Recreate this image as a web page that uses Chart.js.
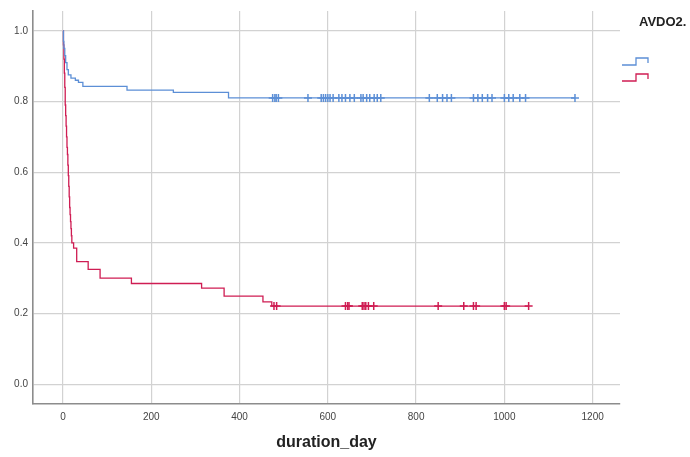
<!DOCTYPE html>
<html lang="en">
<head>
  <meta charset="UTF-8" />
  <title>Survival by AVDO2.</title>
  <style>
    body {
      margin: 0;
      background-color: #fff;
    }
    canvas#kmChart {
      display: block;
    }
  </style>
</head>
<body>
  <canvas id="kmChart" width="690" height="457"></canvas>

  <script src="https://cdn.jsdelivr.net/npm/chart.js"></script>
  <script>
    // axis ticks
    const xTicks = [0, 200, 400, 600, 800, 1000, 1200];
    const yTicks = [0.0, 0.2, 0.4, 0.6, 0.8, 1.0];

    // group 1 (blue): event times and survival level after each step
    const blueTimes = [0, 1, 2, 4, 6, 9, 12, 18, 28, 35, 45, 145, 250, 375];
    const blueSurv  = [1.0, 0.97, 0.95, 0.93, 0.91, 0.89, 0.875, 0.866, 0.86, 0.854, 0.843, 0.832, 0.826, 0.81];
    const blueCensored = [475, 480, 483, 488, 555, 585, 590, 595, 600, 605, 612, 625, 632, 640, 650, 660,
                          675, 680, 688, 695, 705, 712, 720, 830, 848, 860, 870, 880, 930, 940, 950, 962,
                          972, 1000, 1010, 1020, 1035, 1048, 1160];

    // group 2 (red)
    const redTimes = [0, 1, 2, 3, 4, 5, 6, 7, 8, 9, 10, 11, 12, 13, 14, 15, 16, 17, 18, 19, 20,
                      24, 31, 57, 84, 155, 314, 365, 453, 473];
    const redSurv  = [1.0, 0.96, 0.92, 0.88, 0.84, 0.79, 0.76, 0.73, 0.70, 0.67, 0.65, 0.62, 0.59, 0.56,
                      0.53, 0.50, 0.48, 0.46, 0.44, 0.42, 0.40, 0.385, 0.347, 0.325, 0.30, 0.285, 0.272,
                      0.249, 0.233, 0.221];
    const redCensored = [478, 484, 640, 645, 648, 678, 682, 686, 692, 704, 850, 908, 930, 936, 1000, 1004, 1055];

    const BLUE = '#5c8fd6';
    const RED = '#cf1d53';

    // level of the step curve at time t
    function levelAt(times, surv, t) {
      let v = surv[0];
      for (let i = 0; i < times.length; i++) {
        if (times[i] <= t) v = surv[i];
      }
      return v;
    }

    function stepPoints(times, surv, censored) {
      const pts = times.map((t, i) => ({ x: t, y: surv[i] }));
      const last = censored[censored.length - 1];
      pts.push({ x: last, y: levelAt(times, surv, last) });
      return pts;
    }

    function censorPoints(times, surv, censored) {
      return censored.map(t => ({ x: t, y: levelAt(times, surv, t) }));
    }

    // legend block on the right: title + step glyphs
    const sideLegend = {
      id: 'sideLegend',
      afterDraw(chart) {
        const c = chart.ctx;
        c.save();
        c.fillStyle = '#222';
        c.font = 'bold 13px "Liberation Sans", Arial, sans-serif';
        c.textBaseline = 'middle';
        c.fillText('AVDO2.', 639, 22);

        const glyph = (y, color) => {
          c.strokeStyle = color;
          c.lineWidth = 1.3;
          c.beginPath();
          c.moveTo(622, y + 7);
          c.lineTo(636, y + 7);
          c.lineTo(636, y);
          c.lineTo(648, y);
          c.lineTo(648, y + 5);
          c.stroke();
        };
        glyph(58, BLUE);
        glyph(74, RED);
        c.restore();
      }
    };

    const tickFont = { family: '"Liberation Sans", Arial, sans-serif', size: 10 };

    new Chart(document.getElementById('kmChart').getContext('2d'), {
      type: 'line',
      data: {
        datasets: [
          {
            data: stepPoints(blueTimes, blueSurv, blueCensored),
            borderColor: BLUE,
            borderWidth: 1.3,
            stepped: 'before',
            pointRadius: 0,
            fill: false
          },
          {
            data: stepPoints(redTimes, redSurv, redCensored),
            borderColor: RED,
            borderWidth: 1.3,
            stepped: 'before',
            pointRadius: 0,
            fill: false
          },
          {
            data: censorPoints(blueTimes, blueSurv, blueCensored),
            showLine: false,
            pointStyle: 'cross',
            pointRadius: 4,
            borderColor: BLUE,
            borderWidth: 1.5
          },
          {
            data: censorPoints(redTimes, redSurv, redCensored),
            showLine: false,
            pointStyle: 'cross',
            pointRadius: 4,
            borderColor: RED,
            borderWidth: 1.5
          }
        ]
      },
      options: {
        responsive: false,
        animation: false,
        layout: { padding: { top: 7, right: 70, bottom: 0, left: 0 } },
        plugins: {
          legend: { display: false },
          tooltip: { enabled: false }
        },
        scales: {
          x: {
            type: 'linear',
            min: -68,
            max: 1262,
            afterBuildTicks: s => { s.ticks = xTicks.map(v => ({ value: v })); },
            afterFit: s => { s.height = 53; },
            grid: { color: '#d2d2d2', lineWidth: 1.2, drawTicks: false },
            border: { color: '#8c8c8c', width: 1.6 },
            ticks: {
              padding: 7,
              color: '#444',
              font: tickFont,
              callback: v => String(v)
            },
            title: {
              display: true,
              text: 'duration_day',
              color: '#222',
              font: { family: '"Liberation Sans", Arial, sans-serif', size: 16, weight: 'bold' },
              padding: { top: 0, bottom: 5 }
            }
          },
          y: {
            type: 'linear',
            min: -0.056,
            max: 1.056,
            afterBuildTicks: s => { s.ticks = yTicks.map(v => ({ value: v })); },
            afterFit: s => { s.width = 33; },
            grid: { color: '#d2d2d2', lineWidth: 1.2, drawTicks: false },
            border: { color: '#8c8c8c', width: 1.6 },
            ticks: {
              padding: 5,
              color: '#444',
              font: tickFont,
              callback: v => v.toFixed(1)
            }
          }
        }
      },
      plugins: [sideLegend]
    });
  </script>
</body>
</html>
